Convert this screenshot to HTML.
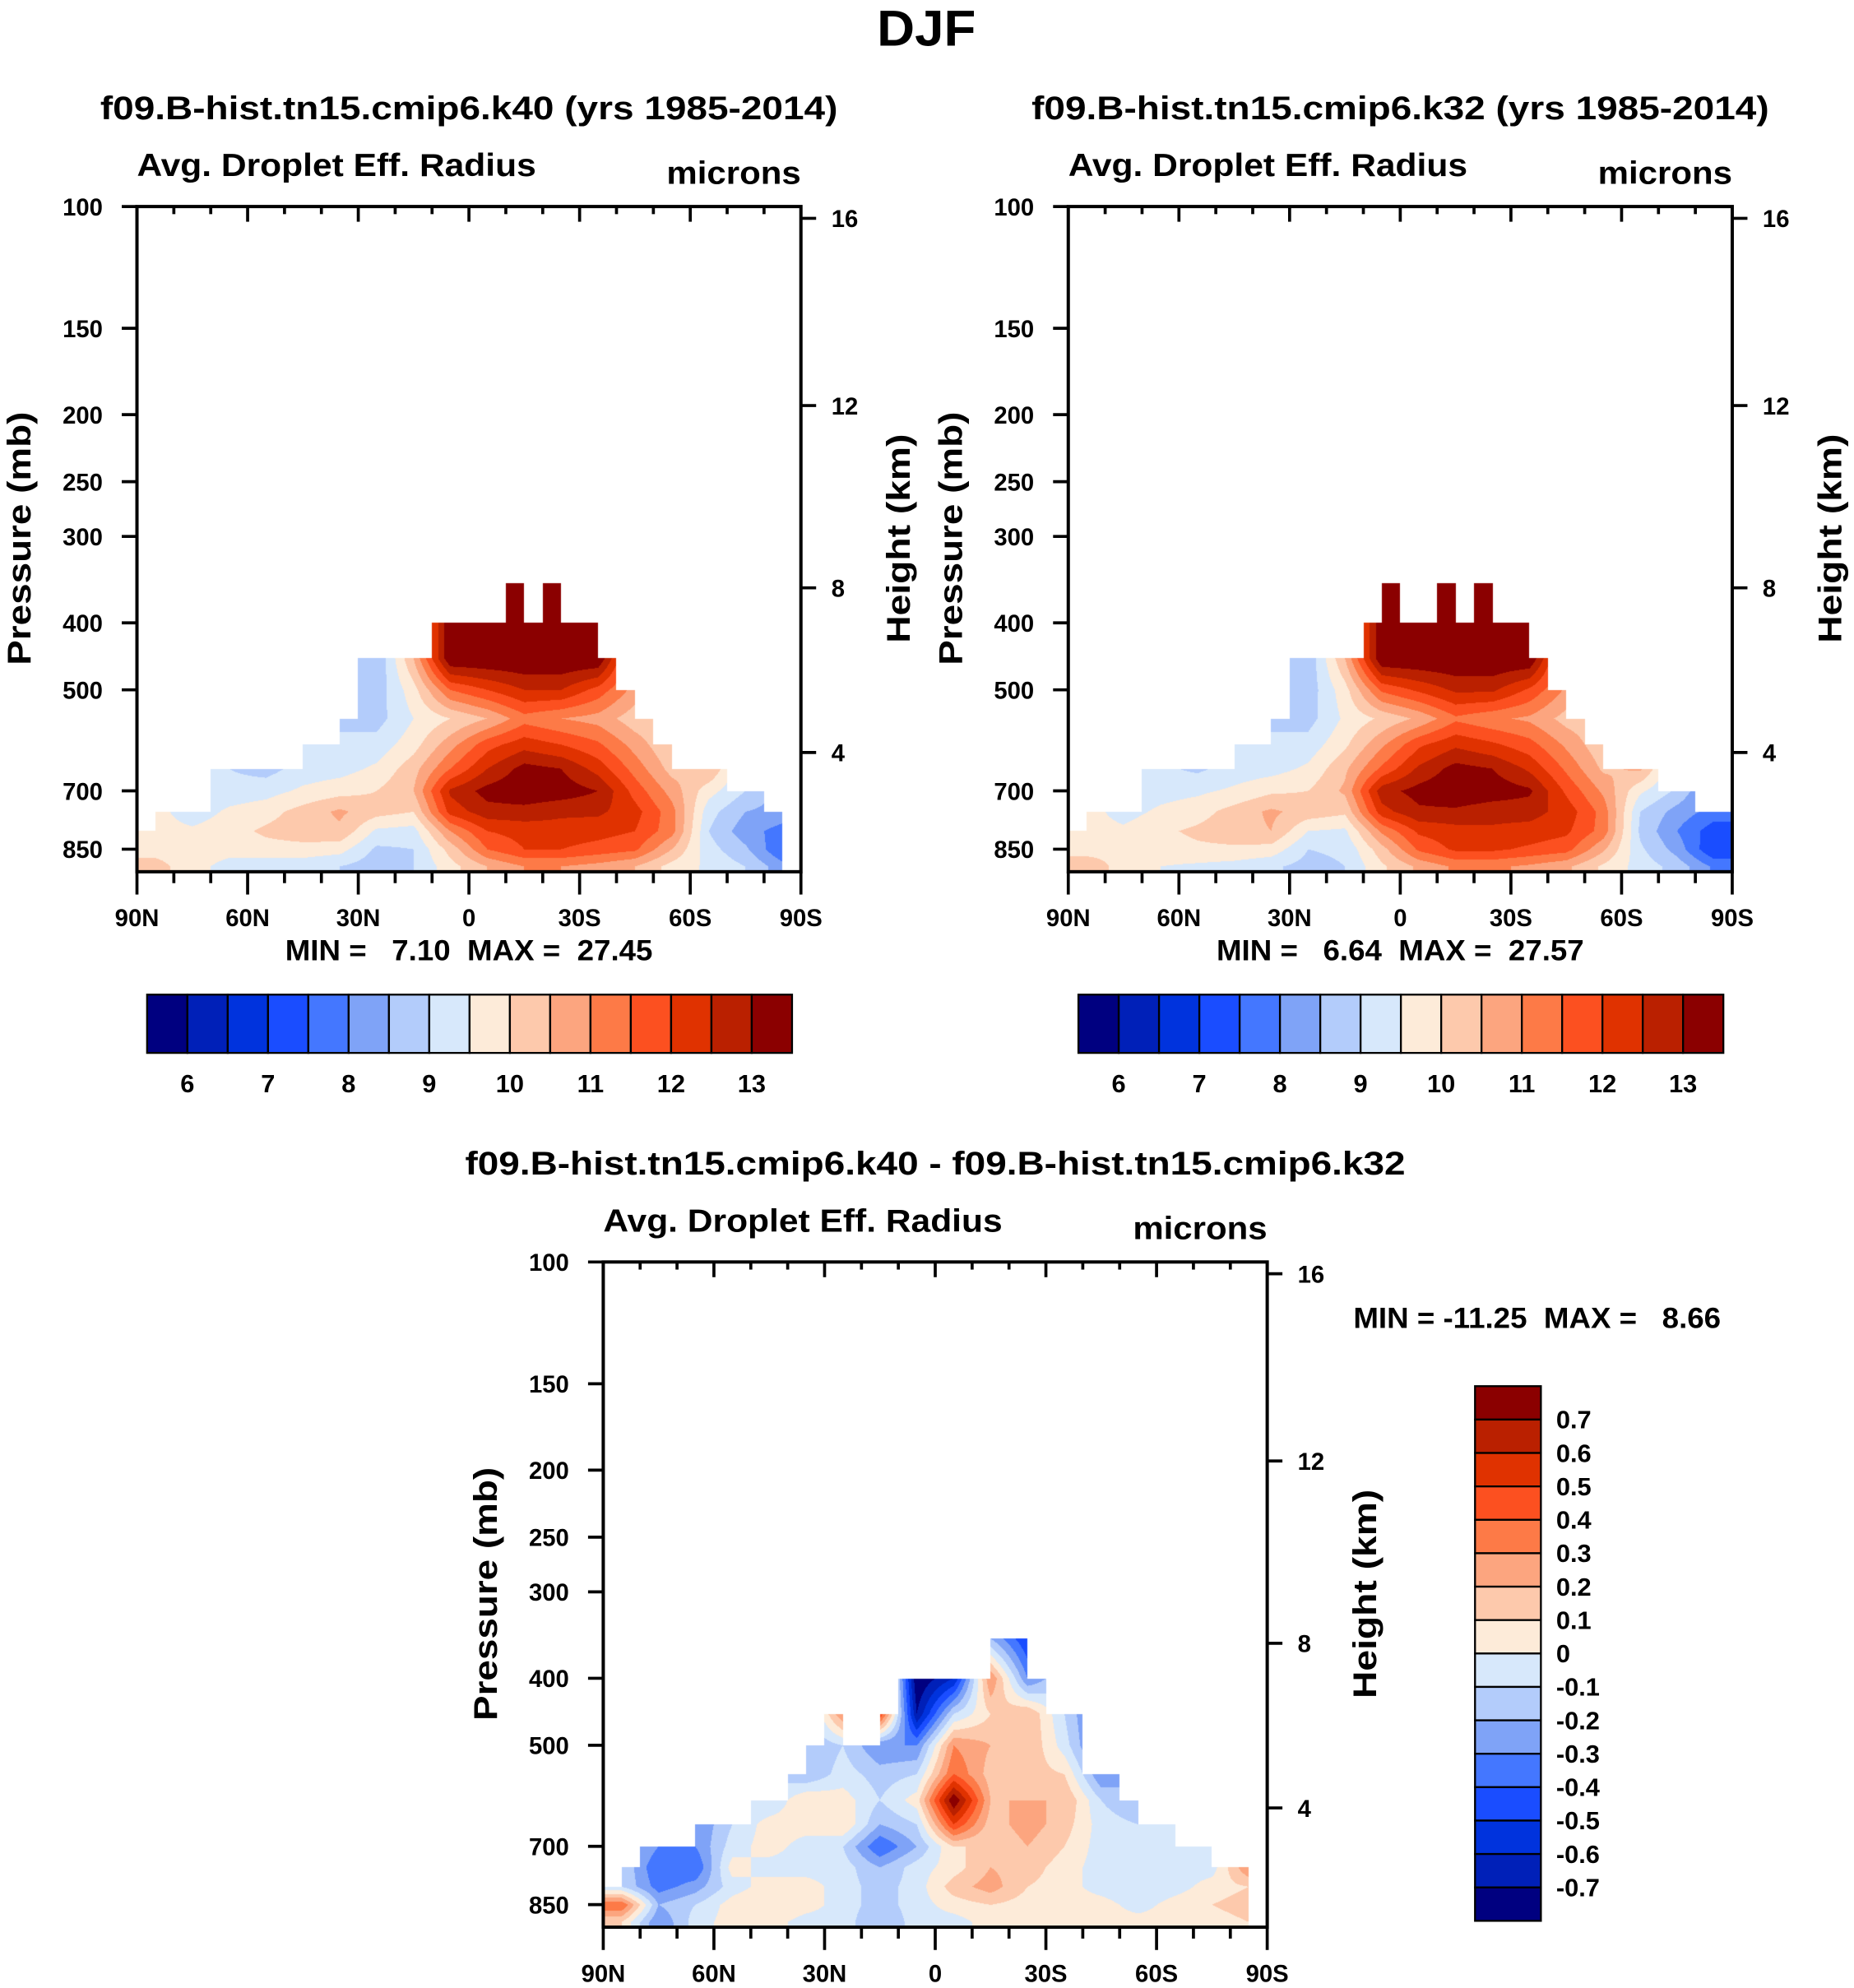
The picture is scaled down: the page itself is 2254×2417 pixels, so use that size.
<!DOCTYPE html>
<html><head><meta charset="utf-8"><style>
html,body{margin:0;padding:0;background:#fff;}
#wrap{position:relative;width:2254px;height:2417px;}
canvas,svg{position:absolute;left:0;top:0;}
text{font-family:"Liberation Sans",sans-serif;font-weight:bold;fill:#000;white-space:pre;}
</style></head><body>
<div id="wrap">
<canvas id="cv" width="2254" height="2417"></canvas>
<svg id="sv" width="2254" height="2417" viewBox="0 0 1463 1569"></svg>
</div>
<script>
// ---- data ----
const levels = [350,400,450,500,550,600,650,700,750,800,850,900];
const latLabels = ["90N","60N","30N","0","30S","60S","90S"];
const pLabels = [100,150,200,250,300,400,500,700,850];
const hLabels = [4,8,12,16];
const hPressures = [616,356,194,104];
const palette = ["#000080","#0020b8","#0033dd","#1a4dff","#4477ff","#7fa3f7","#b3ccfb","#d7e8fb","#fdebd9","#fdc9ac","#fca57f","#fd7a47","#fc5020","#e03200","#ba2000","#8b0000"];
const cbLabelsAbs = ["6","7","8","9","10","11","12","13"];
const cbLabelsDiff = ["0.7","0.6","0.5","0.4","0.3","0.2","0.1","0","-0.1","-0.2","-0.3","-0.4","-0.5","-0.6","-0.7"];
// top pressure of data per 5-degree column (90N -> 90S); 1000 = no data
const top1 = [800,750,750,750,650,650,650,650,650,600,600,550,450,450,450,450,400,400,400,400,350,400,350,400,400,450,500,550,600,650,650,650,700,700,750,1000];
const top2 = [800,750,750,750,650,650,650,650,650,600,600,550,450,450,450,450,400,350,400,400,350,400,350,400,400,450,500,550,600,650,650,650,700,700,750,750];
const top3 = [800,750,700,700,700,650,650,650,600,600,550,500,450,500,500,450,400,400,400,400,400,350,350,400,450,450,550,550,600,650,650,700,700,750,750,1000];
// field values per 10-degree column (85N..85S), levels 350..900
const field1 = [
[9.7,9.7,9.7,9.7,9.7,9.7,9.7,9.7,9.7,9.7,9.8,10.2],
[9.2,9.2,9.2,9.2,9.2,9.2,9.2,9.2,9.2,9.6,9.8,9.7],
[9.0,9.0,9.0,9.0,9.0,9.0,9.0,9.2,9.6,9.8,9.7,9.3],
[8.8,8.8,8.8,8.8,8.8,8.8,8.8,9.3,9.8,10.1,9.8,9.2],
[9.2,9.2,9.2,9.2,9.2,9.2,9.2,9.6,10.2,10.3,9.8,9.2],
[9.0,9.0,9.0,9.0,9.0,9.0,9.3,9.8,10.6,10.4,9.7,9.0],
[8.5,8.5,8.5,8.7,8.8,9.2,9.6,10.0,10.2,9.4,8.9,8.7],
[10.5,10.5,10.5,9.8,9.5,9.8,10.3,10.5,10.0,9.3,9.0,9.0],
[13.5,13.5,13.5,11.5,10.0,10.8,11.5,12.6,12.2,11.0,10.2,9.8],
[13.5,13.5,13.5,12.0,10.5,11.8,12.5,13.2,12.8,12.0,11.5,10.5],
[13.5,13.5,13.5,12.5,11.3,12.3,13.2,13.4,12.8,12.2,12.0,11.0],
[13.5,13.5,13.5,12.5,11.0,12.0,13.0,13.3,12.6,12.3,12.0,11.0],
[13.5,13.5,13.5,11.8,10.8,11.6,12.3,13.0,12.6,12.2,11.8,10.8],
[10.8,10.8,10.8,10.8,10.2,10.8,11.3,11.8,12.2,12.0,11.6,10.5],
[10.0,10.0,10.0,10.0,10.0,10.0,10.3,10.8,11.2,11.2,10.5,9.8],
[10.5,10.5,10.5,10.5,10.5,10.5,10.5,9.7,9.2,9.0,9.2,9.4],
[9.0,9.0,9.0,9.0,9.0,9.0,9.0,9.0,8.5,8.2,8.6,9.0],
[8.3,8.3,8.3,8.3,8.3,8.3,8.3,8.3,8.3,7.8,7.5,8.2]];
const field2 = [
[9.7,9.7,9.7,9.7,9.7,9.7,9.7,9.7,9.7,9.7,9.8,10.3],
[9.2,9.2,9.2,9.2,9.2,9.2,9.2,9.2,9.3,9.6,9.9,9.8],
[9.1,9.1,9.1,9.1,9.1,9.1,9.1,9.3,9.6,9.9,9.8,9.5],
[8.8,8.8,8.8,8.8,8.8,8.8,8.9,9.4,9.8,10.1,9.9,9.4],
[9.2,9.2,9.2,9.2,9.2,9.2,9.2,9.6,10.2,10.3,9.9,9.3],
[9.0,9.0,9.0,9.0,9.0,9.0,9.3,9.9,10.6,10.5,9.8,9.1],
[8.6,8.6,8.6,8.7,8.8,9.2,9.6,10.0,10.3,9.5,9.0,8.8],
[10.5,10.5,10.5,9.8,9.6,9.9,10.4,10.6,10.1,9.4,9.1,9.0],
[13.5,13.5,13.5,11.6,10.1,10.9,11.6,12.8,12.3,11.1,10.3,9.9],
[13.5,13.5,13.5,12.1,10.6,11.9,12.6,13.2,12.9,12.1,11.6,10.6],
[13.5,13.5,13.5,12.6,11.4,12.4,13.2,13.4,12.9,12.3,12.1,11.1],
[13.5,13.5,13.5,12.6,11.1,12.1,13.0,13.3,12.7,12.4,12.1,11.1],
[13.5,13.5,13.5,11.9,10.9,11.7,12.4,13.1,12.7,12.3,11.9,10.9],
[10.9,10.9,10.9,10.9,10.3,10.9,11.4,11.9,12.3,12.1,11.7,10.6],
[10.1,10.1,10.1,10.1,10.1,10.1,10.4,10.9,11.3,11.3,10.6,9.9],
[10.6,10.6,10.6,10.6,10.6,10.6,10.6,9.6,9.0,8.9,9.1,9.3],
[8.9,8.9,8.9,8.9,8.9,8.9,8.9,8.9,8.3,8.0,8.3,8.8],
[7.8,7.8,7.8,7.8,7.8,7.8,7.8,7.8,7.8,7.2,7.0,7.9]];
const field3 = [
[-0.1,-0.1,-0.1,-0.1,-0.1,-0.1,-0.1,-0.1,-0.1,-0.1,0.4,0.1],
[-0.3,-0.3,-0.3,-0.3,-0.3,-0.3,-0.3,-0.3,-0.4,-0.35,-0.2,-0.3],
[-0.3,-0.3,-0.3,-0.3,-0.3,-0.3,-0.3,-0.3,-0.4,-0.25,-0.1,-0.05],
[-0.1,-0.1,-0.1,-0.1,-0.1,-0.1,-0.1,-0.05,0.05,-0.05,0.05,0.05],
[-0.1,-0.1,-0.1,-0.1,-0.1,-0.1,0.05,0.05,-0.05,0.05,0.1,0.05],
[-0.2,-0.2,-0.2,-0.2,-0.2,0.1,0.05,-0.05,-0.05,0.05,0.05,-0.05],
[0.3,0.3,0.3,-0.1,-0.05,0.05,0.1,-0.1,-0.05,-0.05,-0.05,-0.05],
[0.5,0.5,0.5,-0.3,-0.15,-0.1,-0.2,-0.4,-0.2,-0.15,-0.15,-0.2],
[-0.8,-0.8,-0.7,-0.3,-0.1,0.05,-0.1,-0.2,-0.05,-0.05,-0.05,-0.05],
[-0.6,-0.6,-0.1,0.3,0.4,0.8,0.5,0.1,0.05,0.15,0.05,-0.05],
[-0.2,0.3,0.1,0.2,0.15,0.2,0.15,0.1,0.2,0.25,0.1,0.05],
[-0.5,-0.3,0.2,0.2,0.15,0.2,0.25,0.2,0.15,0.1,0.05,0.05],
[-0.1,-0.1,-0.1,-0.05,0.1,0.2,0.15,0.1,0.05,0.05,0.05,0.05],
[-0.4,-0.4,-0.4,-0.4,-0.3,-0.1,-0.05,-0.05,-0.05,-0.05,0.05,0.05],
[-0.2,-0.2,-0.2,-0.2,-0.2,-0.2,-0.1,-0.05,-0.05,-0.1,-0.05,0.05],
[-0.1,-0.1,-0.1,-0.1,-0.1,-0.1,-0.1,-0.05,-0.05,-0.05,0.05,0.05],
[-0.05,-0.05,-0.05,-0.05,-0.05,-0.05,-0.05,-0.05,-0.05,0.05,0.1,0.05],
[0.3,0.3,0.3,0.3,0.3,0.3,0.3,0.3,0.3,0.1,0.15,0.1]];

// ---- geometry ----
const S = 2254/1463;
const PW = 524, PH = 525, K = 237;
const panels = [
 {x0:108,y0:163,f:field1,top:top1,diff:false},
 {x0:843,y0:163,f:field2,top:top2,diff:false},
 {x0:476,y0:996,f:field3,top:top3,diff:true}];
function pToY(pn,p){return pn.y0 + K*Math.log(p/100);}
function yToP(pn,y){return 100*Math.exp((y-pn.y0)/K);}
function latToX(pn,lat){return pn.x0 + (90-lat)/180*PW;}
function colorIndex(v,diff){
  let k = diff ? Math.floor((v+0.8)/0.1+1e-9) : Math.floor((v-5.5)/0.5+1e-9);
  return Math.max(0,Math.min(15,k));
}
function hex(c){return [parseInt(c.substr(1,2),16),parseInt(c.substr(3,2),16),parseInt(c.substr(5,2),16)];}
const pal = palette.map(hex);

// ---- fields ----
const cv = document.getElementById('cv');
const ctx = cv.getContext('2d');
const img = ctx.createImageData(2254,2417);
for(let i=0;i<img.data.length;i+=4){img.data[i]=255;img.data[i+1]=255;img.data[i+2]=255;img.data[i+3]=255;}
panels.forEach(pn=>{
  const px0=Math.ceil(pn.x0*S), px1=Math.floor((pn.x0+PW)*S), py0=Math.ceil(pn.y0*S), py1=Math.floor((pn.y0+PH)*S);
  const nc = pn.f.length;
  for(let py=py0;py<py1;py++){
    const p = yToP(pn,(py+0.5)/S);
    let fj = (p-levels[0])/50; fj=Math.max(0,Math.min(levels.length-1,fj));
    const j0=Math.min(levels.length-2,Math.floor(fj)), tj=fj-j0;
    for(let px=px0;px<px1;px++){
      const u=((px+0.5)/S-pn.x0)/PW;
      const c5=Math.max(0,Math.min(pn.top.length-1,Math.floor(u*pn.top.length)));
      if(p < pn.top[c5]) continue;
      let fi=u*nc-0.5; fi=Math.max(0,Math.min(nc-1,fi));
      const i0=Math.min(nc-2,Math.floor(fi)), ti=fi-i0;
      const a=pn.f[i0][j0],b=pn.f[i0+1][j0],c=pn.f[i0][j0+1],d=pn.f[i0+1][j0+1];
      const v=(a*(1-ti)+b*ti)*(1-tj)+(c*(1-ti)+d*ti)*tj;
      const col=pal[colorIndex(v,pn.diff)];
      const o=(py*2254+px)*4;
      img.data[o]=col[0];img.data[o+1]=col[1];img.data[o+2]=col[2];
    }
  }
});
ctx.putImageData(img,0,0);

// ---- overlay ----
const NS="http://www.w3.org/2000/svg";
const sv=document.getElementById('sv');
function mk(tag,attrs){const e=document.createElementNS(NS,tag);for(const k in attrs)e.setAttribute(k,attrs[k]);sv.appendChild(e);return e;}
function line(x1,y1,x2,y2,w,name){const e=mk('line',{x1:x1,y1:y1,x2:x2,y2:y2,stroke:'#000','stroke-width':w});


return e;}
function txt(s,x,y,size,anchor,name,len){const e=mk('text',{x:x,y:y,'font-size':size,'text-anchor':anchor||'start'});
e.setAttributeNS("http://www.w3.org/XML/1998/namespace","xml:space","preserve");
if(len){e.setAttribute('textLength',len);e.setAttribute('lengthAdjust','spacingAndGlyphs');}
e.textContent=s;


return e;}

txt("DJF",731,36,40,'middle','figure-title',78);
const subTitles = ["f09.B-hist.tn15.cmip6.k40 (yrs 1985-2014)","f09.B-hist.tn15.cmip6.k32 (yrs 1985-2014)","f09.B-hist.tn15.cmip6.k40 - f09.B-hist.tn15.cmip6.k32"];
const minmax = ["MIN =   7.10  MAX =  27.45","MIN =   6.64  MAX =  27.57","MIN = -11.25  MAX =   8.66"];

panels.forEach((pn,idx)=>{
  const x0=pn.x0,y0=pn.y0,x1=x0+PW,y1=y0+PH;
  txt(subTitles[idx],x0+PW/2,y0-69,26,'middle','panel-title',idx==2?742:582);
  txt("Avg. Droplet Eff. Radius",x0,y0-24,25,'start','variable-label',315);
  txt("microns",x1,y0-18,25,'end','units-label',106);
  const fr=mk('rect',{x:x0,y:y0,width:PW,height:PH,fill:'none',stroke:'#000','stroke-width':2.6});
  
  
  for(let lat=90;lat>=-90;lat-=10){
    const x=latToX(pn,lat); const major=(lat%30===0);
    line(x,y1,x,y1+(major?18:9),2.4,'x-tick');
    if(lat!==90&&lat!==-90) line(x,y0,x,y0+(major?12:6),2.4,'x-tick-top');
  }
  latLabels.forEach((s,i)=>{txt(s,latToX(pn,90-30*i),y1+43,19,'middle','x-tick-label');});
  pLabels.forEach(p=>{const y=pToY(pn,p);line(x0-12,y,x0,y,2.4,'y-tick');txt(String(p),x0-27,y+7,19,'end','y-tick-label');});
  hLabels.forEach((h,i)=>{const y=pToY(pn,hPressures[i]);line(x1,y,x1+12,y,2.4,'height-tick');txt(String(h),x1+24,y+7,19,'start','height-tick-label');});
  const yt=txt("Pressure (mb)",0,0,26,'middle','y-axis-title',200);
  yt.setAttribute('transform','translate('+(x0-84)+','+(y0+262)+') rotate(-90)');
  const ht=txt("Height (km)",0,0,26,'middle','height-axis-title',165);
  ht.setAttribute('transform','translate('+(x1+86)+','+(y0+262)+') rotate(-90)');
  if(!pn.diff){
    txt(minmax[idx],x0+PW/2,y1+70,23,'middle','min-max-label',290);
    const bx=x0+8,by=785,bw=509/16;
    palette.forEach((c,k)=>{const r=mk('rect',{x:bx+k*bw,y:by,width:bw,height:46,fill:c,stroke:'#000','stroke-width':1.5});
      
      });
    cbLabelsAbs.forEach((s,i)=>{txt(s,bx+(1+2*i)*bw,862,20,'middle','colorbar-label');});
  } else {
    txt(minmax[idx],1068,1048,23,'start','min-max-label',290);
    const bx=1164,by=1094,bh=422/16;
    palette.slice().reverse().forEach((c,k)=>{const r=mk('rect',{x:bx,y:by+k*bh,width:52,height:bh,fill:c,stroke:'#000','stroke-width':1.5});
      
      });
    cbLabelsDiff.forEach((s,i)=>{txt(s,bx+64,by+(i+1)*bh+7,20,'start','colorbar-label');});
  }
});
</script>
</body></html>
